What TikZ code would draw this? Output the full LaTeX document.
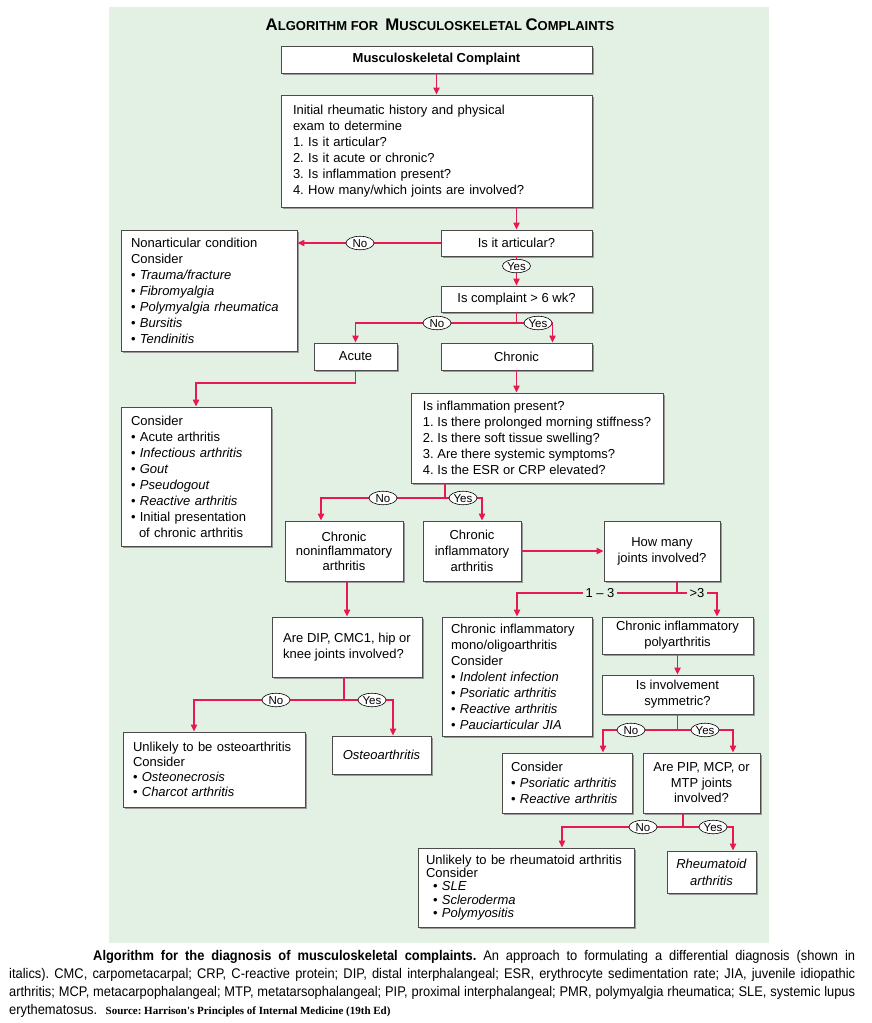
\documentclass[tikz,border=0pt]{standalone}
\usepackage{fontspec}
\setmainfont{Liberation Sans}
\newfontfamily\capfont[FakeStretch=0.92]{Liberation Sans}
\newfontfamily\srcfont{Liberation Serif}
\usetikzlibrary{arrows.meta, shapes.geometric, shadows}
\definecolor{bggreen}{RGB}{227,241,228}
\definecolor{flowred}{RGB}{230,25,80}
\definecolor{boxline}{RGB}{75,75,75}
\newcommand\boxfont{\fontsize{13}{16}\selectfont}
\newcommand\titlecap[1]{{\fontsize{16.8}{17}\selectfont #1}}
\frenchspacing

\begin{document}
\begin{tikzpicture}[x=1pt, y=-1pt,
    box/.style={draw=boxline, fill=white, line width=0.7pt, inner ysep=0pt,
      drop shadow={shadow xshift=1.6pt, shadow yshift=-1.6pt, fill=black!40, opacity=1},
      font=\boxfont},
    lbox/.style={box, align=left},
    cbox/.style={box, align=center},
    flow/.style={draw=flowred, line width=1.9pt, -{Triangle[length=7pt, width=6pt]}},
    yn/.style={ellipse, draw=black, fill=white, line width=0.6pt, inner sep=0.3pt,
      text height=8.2pt, text depth=0pt, minimum height=13.5pt, minimum width=28pt,
      font=\fontsize{11.5}{11.5}\selectfont},
    rng/.style={fill=bggreen, inner xsep=2.5pt, inner ysep=1pt, font=\fontsize{13}{13}\selectfont},
    capline/.style={anchor=base west, inner sep=0pt, font=\capfont\fontsize{14}{18}\selectfont}]

    % Page and panel
    \fill[white] (0,0) rectangle (872,1023);
    \fill[bggreen] (109,7) rectangle (769,943);
    \useasboundingbox (0,0) rectangle (872,1023);

    % Title
    \node[anchor=base, font=\bfseries\fontsize{13}{13}\selectfont] (title) at (440,30)
      {\titlecap{A}LGORITHM FOR \ \titlecap{M}USCULOSKELETAL \titlecap{C}OMPLAINTS};

    % Boxes
    \node[cbox, font=\bfseries\boxfont, minimum width=311pt, minimum height=27pt] (start) at (436.5,59.5) {Musculoskeletal Complaint};
    \node[lbox, text width=287pt, inner xsep=12pt, minimum height=112pt] (hist) at (436.5,151)
      {Initial rheumatic history and physical\\ exam to determine\\ 1. Is it articular?\\ 2. Is it acute or chronic?\\ 3. Is inflammation present?\\ 4. How many/which joints are involved?};
    \node[cbox, minimum width=151pt, minimum height=26pt] (art) at (516.5,243) {Is it articular?};
    \node[lbox, text width=156pt, inner xsep=10pt, minimum height=121pt] (nonart) at (209,290.5)
      {Nonarticular condition\\ Consider\\ • \textit{Trauma/fracture}\\ • \textit{Fibromyalgia}\\ • \textit{Polymyalgia rheumatica}\\ • \textit{Bursitis}\\ • \textit{Tendinitis}};
    \node[cbox, minimum width=151pt, minimum height=26pt] (dur) at (516.5,299) {Is complaint > 6 wk?};
    \node[cbox, minimum width=83pt, minimum height=27pt] (acute) at (355.5,356.5) {Acute};
    \node[cbox, minimum width=151pt, minimum height=27pt] (chronic) at (516.5,356.5) {Chronic};
    \node[lbox, text width=130pt, inner xsep=10pt, minimum height=139pt] (acutecons) at (196,476.5)
      {Consider\\ • Acute arthritis\\ • \textit{Infectious arthritis}\\ • \textit{Gout}\\ • \textit{Pseudogout}\\ • \textit{Reactive arthritis}\\ • Initial presentation\\ \hspace*{8pt}of chronic arthritis};
    \node[lbox, inner xsep=8pt, minimum width=252pt, minimum height=90pt] (inflam) at (537,438)
      {Is inflammation present?\\ 1. Is there prolonged morning stiffness?\\ 2. Is there soft tissue swelling?\\ 3. Are there systemic symptoms?\\ 4. Is the ESR or CRP elevated?};
    \node[cbox, font=\fontsize{13}{14.5}\selectfont, minimum width=118pt, minimum height=60pt] (noninf) at (344,551) {Chronic\\ noninflammatory\\ arthritis};
    \node[cbox, minimum width=98pt, minimum height=60pt] (inf) at (472,551) {Chronic\\ inflammatory\\ arthritis};
    \node[cbox, minimum width=116pt, minimum height=60pt] (howmany) at (662,551) {How many\\ joints involved?};
    \node[lbox, text width=132pt, inner xsep=9pt, minimum height=119pt] (mono) at (517,676.5)
      {Chronic inflammatory\\ mono/oligoarthritis\\ Consider\\ • \textit{Indolent infection}\\ • \textit{Psoriatic arthritis}\\ • \textit{Reactive arthritis}\\ • \textit{Pauciarticular JIA}};
    \node[cbox, minimum width=151pt, minimum height=37pt] (poly) at (677.5,635.5) {Chronic inflammatory\\ polyarthritis};
    \node[cbox, minimum width=151pt, minimum height=39pt] (sym) at (677.5,694.5) {Is involvement\\ symmetric?};
    \node[lbox, minimum width=150pt, minimum height=60pt] (dip) at (347,647) {Are DIP, CMC1, hip or\\ knee joints involved?};
    \node[lbox, font=\fontsize{13}{15}\selectfont, text width=162pt, inner xsep=10pt, minimum height=75pt] (oaun) at (214,769.5)
      {Unlikely to be osteoarthritis\\ Consider\\ • \textit{Osteonecrosis}\\ • \textit{Charcot arthritis}};
    \node[cbox, minimum width=99pt, minimum height=38pt] (oa) at (381.5,755) {\textit{Osteoarthritis}};
    \node[lbox, text width=112pt, inner xsep=9pt, minimum height=60pt] (cons2) at (567,783)
      {Consider\\ • \textit{Psoriatic arthritis}\\ • \textit{Reactive arthritis}};
    \node[cbox, font=\fontsize{13}{15.5}\selectfont, minimum width=117pt, minimum height=60pt] (pip) at (701.5,783) {Are PIP, MCP, or\\ MTP joints\\ involved?};
    \node[lbox, font=\fontsize{13}{13.2}\selectfont, text width=200pt, inner xsep=8pt, minimum height=79pt] (raun) at (526,887.5)
      {Unlikely to be rheumatoid arthritis\\ Consider\\ \hspace*{7pt}• \textit{SLE}\\ \hspace*{7pt}• \textit{Scleroderma}\\ \hspace*{7pt}• \textit{Polymyositis}};
    \node[cbox, font=\fontsize{13}{17}\selectfont, minimum width=89pt, minimum height=42pt] (ra) at (711.5,872) {\textit{Rheumatoid}\\ \textit{arthritis}};

    % Connectors
    \draw[flow] (start) -- (hist);
    \draw[flow] (hist.south -| art.north) -- (art.north);
    \draw[flow] (art.west) -- (art.west -| nonart.east);
    \draw[flow] (art) -- (dur);
    \draw[flow] (dur.south) -- ++(0,11) -| (acute.north);
    \draw[flow] (dur.south) -- ++(0,11) -| ([xshift=36pt]chronic.north);
    \draw[flow] (acute.south) -- ++(0,13) -| (acutecons.north);
    \draw[flow] (chronic.south) -- (chronic.south |- inflam.north);
    \draw[flow] ([xshift=-92pt]inflam.south) -- ++(0,15) -| ([xshift=-23pt]noninf.north);
    \draw[flow] ([xshift=-92pt]inflam.south) -- ++(0,15) -| ([xshift=10pt]inf.north);
    \draw[flow] (inf) -- (howmany);
    \draw[flow] ([xshift=15pt]howmany.south) -- ++(0,12) -| (mono.north);
    \draw[flow] ([xshift=15pt]howmany.south) -- ++(0,12) -| ([xshift=39.5pt]poly.north);
    \draw[flow] (poly) -- (sym);
    \draw[flow] (sym.south) -- ++(0,16) -| ([xshift=36pt]cons2.north);
    \draw[flow] (sym.south) -- ++(0,16) -| ([xshift=31.5pt]pip.north);
    \draw[flow] ([xshift=-18.5pt]pip.south) -- ++(0,14) -| ([xshift=36pt]raun.north);
    \draw[flow] ([xshift=-18.5pt]pip.south) -- ++(0,14) -| ([xshift=21.5pt]ra.north);
    \draw[flow] (noninf.south -| dip.north) -- (dip.north);
    \draw[flow] ([xshift=-3pt]dip.south) -- ++(0,23) -| ([xshift=-20pt]oaun.north);
    \draw[flow] ([xshift=-3pt]dip.south) -- ++(0,23) -| ([xshift=11.5pt]oa.north);

    % Yes / No labels
    \node[yn] (no1) at (360,243) {No};
    \node[yn] (yes1) at (516.5,266) {Yes};
    \node[yn] (no2) at (437,323) {No};
    \node[yn] (yes2) at (538,323) {Yes};
    \node[yn] (no3) at (383,498) {No};
    \node[yn] (yes3) at (463,498) {Yes};
    \node[rng] (few) at (600,593) {1 – 3};
    \node[rng] (many) at (697,593) {>3};
    \node[yn] (no4) at (276,700) {No};
    \node[yn] (yes4) at (372,700) {Yes};
    \node[yn] (no5) at (631,730) {No};
    \node[yn] (yes5) at (705,730) {Yes};
    \node[yn] (no6) at (643,827) {No};
    \node[yn] (yes6) at (713,827) {Yes};

    % Caption
    \node[capline] (cap1) at (93,960) {\makebox[762pt][s]{{\bfseries\fontsize{14}{18}\selectfont Algorithm for the diagnosis of musculoskeletal complaints.} An approach to formulating a differential diagnosis (shown in}};
    \node[capline] (cap2) at (9,978) {\makebox[846pt][s]{italics). CMC, carpometacarpal; CRP, C-reactive protein; DIP, distal interphalangeal; ESR, erythrocyte sedimentation rate; JIA, juvenile idiopathic}};
    \node[capline] (cap3) at (9,996) {\makebox[846pt][s]{arthritis; MCP, metacarpophalangeal; MTP, metatarsophalangeal; PIP, proximal interphalangeal; PMR, polymyalgia rheumatica; SLE, systemic lupus}};
    \node[capline] (cap4) at (9,1014) {erythematosus.};
    \node[anchor=base west, inner sep=0pt, font=\srcfont\bfseries\fontsize{11}{12}\selectfont] (src) at ([xshift=8pt]cap4.base east)
      {Source: Harrison's Principles of Internal Medicine (19th Ed)};
\end{tikzpicture}
\end{document}
